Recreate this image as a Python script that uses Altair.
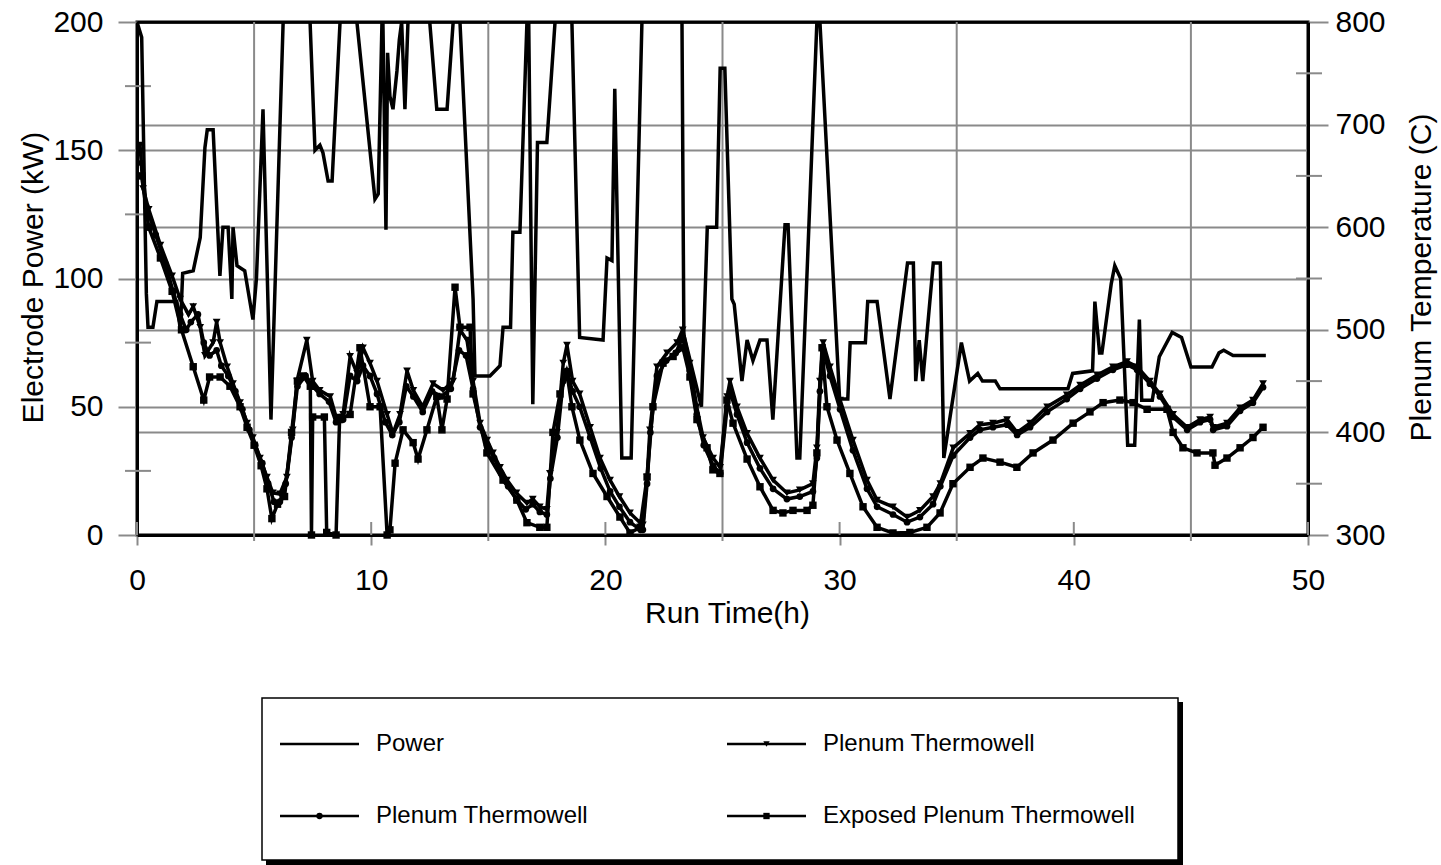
import altair as alt
import pandas as pd

# ---------------- data ----------------
power_t = [0.0, 0.2, 0.4, 0.47, 0.68, 0.85, 1.7, 1.85, 1.95, 2.4, 2.7, 2.9, 3.0, 3.25, 3.54, 3.67, 3.89, 4.05, 4.1, 4.27,
           4.6, 4.95, 5.1, 5.38, 5.72, 6.24, 6.8, 7.39, 7.6, 7.81, 7.94, 8.16, 8.33, 8.67, 9.0, 9.39, 10.16, 10.3, 10.46, 10.5,
           10.63, 10.7, 10.8, 10.93, 11.1, 11.2, 11.3, 11.44, 11.57, 12.0, 12.5, 12.8, 13.24, 13.5, 13.65, 13.79, 14.35, 14.43, 15.07, 15.5,
           15.63, 15.95, 16.05, 16.35, 16.65, 16.72, 16.9, 17.1, 17.5, 17.85, 18.2, 18.57, 18.9, 19.9, 20.07, 20.28, 20.4, 20.7, 21.1, 21.56,
           22.4, 23.27, 23.35, 24.1, 24.35, 24.75, 24.9, 25.1, 25.4, 25.5, 25.83, 26.05, 26.3, 26.6, 26.9, 27.15, 27.67, 27.8, 28.18, 28.3,
           29.03, 29.1, 29.16, 30.0, 30.35, 30.45, 31.1, 31.2, 31.6, 32.15, 32.9, 33.15, 33.25, 33.4, 33.55, 34.0, 34.3, 34.45, 35.2, 35.55,
           35.9, 36.1, 36.65, 36.85, 39.75, 39.95, 40.8, 40.9, 41.1, 41.2, 41.6, 41.75, 42.0, 42.3, 42.6, 42.8, 42.9, 43.35, 43.65, 44.2,
           44.6, 45.0, 45.9, 46.2, 46.4, 46.8, 48.2]
power_kw = [200, 194, 94, 81, 81, 91, 91, 80, 102, 103, 116, 151, 158, 158, 101, 120, 120, 92, 120, 105,
            103, 84, 100, 166, 45, 200, 225, 200, 150, 152, 149, 138, 138, 200, 215, 200, 131, 133, 200, 200,
            119, 188, 171, 166, 181, 193, 200, 166, 200, 220, 200, 166, 166, 200, 205, 200, 92, 62, 62, 66,
            81, 81, 118, 118, 200, 205, 51, 153, 153, 200, 230, 200, 77, 76, 108, 107, 174, 30, 30, 200,
            240, 200, 78, 50, 120, 120, 182, 182, 92, 90, 60, 76, 68, 76, 76, 45, 121, 121, 30, 30,
            200, 205, 200, 53, 53, 75, 75, 91, 91, 53, 106, 106, 60, 76, 60, 106, 106, 30, 75, 60,
            63, 60, 60, 57, 57, 63, 64, 91, 71, 71, 98, 105, 100, 35, 35, 84, 52.5, 52.5, 69.5, 79,
            77, 65.5, 65.5, 71, 72, 70, 70]

tw1_t = [0.13, 0.26, 0.5, 1.0, 1.5, 1.84, 2.2, 2.4, 2.7, 2.9, 3.25, 3.4, 3.55, 3.85, 4.1, 4.4, 4.7, 4.95, 5.25, 5.55,
         5.8, 6.1, 6.4, 6.65, 6.83, 7.25, 7.5, 7.8, 8.25, 8.5, 8.8, 9.1, 9.4, 9.65, 9.95, 10.25, 10.68, 10.93, 11.23, 11.53,
         11.8, 12.2, 12.64, 13.07, 13.5, 13.79, 14.09, 14.35, 14.65, 14.95, 15.2, 15.5, 15.8, 16.2, 16.65, 16.9, 17.2, 17.5, 17.63, 17.93,
         18.2, 18.36, 18.6, 18.9, 19.35, 19.77, 20.2, 20.6, 21.05, 21.48, 21.6, 21.78, 21.9, 22.2, 22.63, 23.06, 23.3, 23.6, 23.9, 24.17,
         24.6, 24.9, 25.2, 25.32, 25.62, 26.05, 26.6, 27.16, 27.75, 28.3, 28.86, 29.03, 29.16, 29.3, 29.59, 30.02, 30.57, 31.17, 31.6, 32.28,
         32.88, 33.43, 33.99, 34.3, 34.85, 35.57, 35.99, 36.55, 37.15, 37.58, 38.13, 38.86, 39.7, 40.27, 40.99, 41.67, 42.27, 42.7, 43.25, 43.68,
         44.24, 44.84, 45.39, 45.82, 45.95, 46.54, 47.1, 47.65, 48.08]
tw1_c = [680, 637.5, 617.5, 582.5, 552.5, 530, 515, 522.5, 502.5, 475, 487.5, 507.5, 487.5, 464, 447.5, 429, 409, 395, 375, 356.5,
         341, 340, 356.5, 402.5, 450, 490, 450, 441, 435, 415, 417.5, 474, 457.5, 482.5, 467.5, 450, 417.5, 399, 417.5, 460,
         441, 425, 447.5, 441, 450, 500, 490, 450, 409, 392.5, 380, 366, 353.5, 341, 331, 335, 327.5, 325, 360, 400,
         467.5, 485, 450, 437.5, 405, 375, 353.5, 337.5, 321.5, 312, 310, 356.5, 402.5, 464, 477.5, 487.5, 500, 467.5, 425, 395,
         375, 366, 435, 450, 425, 399, 375, 353.5, 341, 344, 350, 385, 450, 487.5, 464, 431.5, 392.5, 353.5, 334, 327.5,
         317.5, 324, 337.5, 350, 385, 399, 407.5, 409, 412.5, 400, 409, 425, 436.5, 446, 456, 464, 469, 464, 450, 437.5,
         417.5, 405, 412.5, 415, 405, 409, 424, 431.5, 447.5]

tw2_t = [0.2, 0.4, 0.8, 1.2, 1.54, 1.84, 2.1, 2.3, 2.6, 2.85, 3.1, 3.4, 3.6, 3.9, 4.2, 4.5, 4.8, 5.05, 5.35, 5.6,
         5.85, 6.1, 6.35, 6.6, 6.85, 7.2, 7.5, 7.8, 8.2, 8.5, 8.8, 9.1, 9.4, 9.65, 9.95, 10.25, 10.6, 10.9, 11.2, 11.5,
         11.8, 12.2, 12.6, 13.0, 13.4, 13.75, 14.05, 14.35, 14.65, 14.95, 15.25, 15.55, 15.85, 16.2, 16.6, 16.9, 17.2, 17.5, 17.65, 17.95,
         18.2, 18.35, 18.6, 18.9, 19.35, 19.8, 20.2, 20.6, 21.05, 21.5, 21.6, 21.78, 21.92, 22.2, 22.6, 23.0, 23.3, 23.6, 23.9, 24.2,
         24.6, 24.9, 25.2, 25.32, 25.62, 26.05, 26.6, 27.16, 27.75, 28.3, 28.86, 29.03, 29.16, 29.3, 29.59, 30.02, 30.57, 31.17, 31.6, 32.28,
         32.88, 33.43, 33.99, 34.3, 34.85, 35.57, 35.99, 36.55, 37.15, 37.58, 38.13, 38.86, 39.7, 40.27, 40.99, 41.67, 42.27, 42.7, 43.25, 43.68,
         44.24, 44.84, 45.39, 45.82, 45.95, 46.54, 47.1, 47.65, 48.08]
tw2_c = [662.5, 620, 592.5, 565, 537.5, 515, 500, 507.5, 515, 487.5, 475, 480, 465, 455, 440, 422.5, 402.5, 387.5, 370, 350,
         332.5, 332.5, 350, 395, 445, 455, 445, 437.5, 430, 410, 412.5, 455, 450, 465, 455, 437.5, 410, 397.5, 410, 445,
         435, 420, 440, 435, 442.5, 480, 475, 442.5, 405, 387.5, 375, 360, 347.5, 335, 325, 330, 322.5, 320, 355, 395,
         450, 460, 440, 425, 395, 365, 342.5, 327.5, 312.5, 305, 305, 350, 400, 455, 470, 477.5, 492.5, 460, 417.5, 387.5,
         367.5, 360, 425, 440, 417.5, 390, 365, 345, 335, 337.5, 342.5, 375, 440, 480, 455, 422.5, 382.5, 345, 327.5, 320,
         312.5, 317.5, 330, 347.5, 377.5, 395, 402.5, 405, 407.5, 397.5, 405, 420, 432.5, 442.5, 452.5, 461, 466, 461, 447.5, 435,
         415, 402.5, 410, 412.5, 402.5, 406, 421, 429, 444]

exp_t = [0.2, 0.5, 1.0, 1.5, 1.9, 2.4, 2.85, 3.1, 3.55, 3.97, 4.4, 4.7, 5.0, 5.3, 5.55, 5.76, 6.0, 6.3, 6.6, 6.85,
         7.1, 7.4, 7.45, 7.5, 8.0, 8.1, 8.5, 8.65, 9.1, 9.52, 9.95, 10.38, 10.68, 10.8, 11.02, 11.36, 11.79, 12.0, 12.38, 12.8,
         13.02, 13.24, 13.58, 13.79, 14.22, 14.35, 14.94, 15.63, 16.22, 16.65, 17.2, 17.5, 17.76, 18.06, 18.36, 18.57, 18.91, 19.47, 20.07, 20.62,
         21.05, 21.48, 21.78, 22.03, 22.46, 22.89, 23.31, 23.61, 23.91, 24.34, 24.59, 24.89, 25.19, 25.45, 26.05, 26.6, 27.16, 27.58, 28.01, 28.61,
         28.86, 29.03, 29.25, 29.46, 29.89, 30.44, 31.0, 31.6, 32.28, 33.0, 33.73, 34.29, 34.84, 35.57, 36.12, 36.85, 37.57, 38.26, 39.11, 39.97,
         40.69, 41.25, 41.97, 42.53, 43.13, 43.98, 44.24, 44.66, 45.26, 45.94, 46.03, 46.54, 47.1, 47.65, 48.08]
exp_c = [650, 600, 570, 537.5, 500, 464, 431.5, 454, 454, 445, 425, 405, 387.5, 367.5, 345, 316, 330, 337.5, 400, 450,
         455, 445, 300, 415, 415, 302.5, 300, 412.5, 417.5, 482.5, 425, 425, 300, 305, 370, 402.5, 390, 374, 402.5, 435,
         402.5, 432.5, 541.5, 502.5, 502.5, 437.5, 380, 353.5, 334, 312, 307.5, 307.5, 400, 437.5, 457.5, 425, 392.5, 360, 337.5, 317.5,
         302, 307.5, 356.5, 425, 467.5, 474, 482.5, 454, 412.5, 385, 363.5, 360, 431.5, 409, 374, 347, 324, 321.5, 324, 324,
         329, 380, 482.5, 425, 392.5, 360, 327.5, 307.5, 302, 302.5, 307.5, 321.5, 350, 366, 375, 371, 366, 380, 392.5, 409,
         420, 429, 431.5, 429, 422.5, 422.5, 400, 385, 380, 380, 368, 375, 385, 395, 405]

x_grid_lines = [5, 15, 25, 35, 45]
x_tick_values = [0, 10, 20, 30, 40, 50]
left_tick_values = [0, 50, 100, 150, 200]
left_minor_values = [25, 75, 125, 175]
right_tick_values = [300, 400, 500, 600, 700, 800]
right_minor_values = [350, 450, 550, 650, 750]

# legend entries: label, marker shape (None = plain line), column, row
legend_labels = ["Power", "Plenum Thermowell", "Plenum Thermowell", "Exposed Plenum Thermowell"]
legend_markers = [None, "triangle-down", "circle", "square"]
legend_cols = [0, 1, 0, 1]
legend_rows = [0, 0, 1, 1]

# ---------------- layout / style ----------------
W, H = 1171, 513
GRAY = "#8a8a8a"
FONT = "Liberation Sans"

xscale = alt.Scale(domain=[0, 50], nice=False, zero=False)
x_axis = alt.Axis(values=x_tick_values, grid=False, tickSize=10, tickColor=GRAY, tickWidth=2,
                  domainColor="black", domainWidth=3, labelFont=FONT, labelFontSize=30, labelColor="black",
                  labelPadding=20, labelFlush=False, title="Run Time(h)", titleFont=FONT, titleFontSize=30,
                  titleFontWeight="normal", titleColor="black", titleX=590, titleY=87,
                  titleBaseline="alphabetic", titleAlign="center")
x_enc = alt.X("t:Q", scale=xscale, axis=x_axis)

left_axis = alt.Axis(orient="left", values=left_tick_values, grid=True,
                     gridColor=alt.condition("datum.value == 0 || datum.value == 200", alt.value("black"), alt.value(GRAY)),
                     gridWidth=2, tickSize=19, tickColor=GRAY, tickWidth=2, domainColor="black", domainWidth=3,
                     labelFont=FONT, labelFontSize=30, labelColor="black", labelPadding=15, labelFlush=False,
                     title="Electrode Power (kW)", titleFont=FONT, titleFontSize=30, titleFontWeight="normal",
                     titleColor="black", titleAngle=270, titleX=-95, titleY=255, titleBaseline="alphabetic",
                     titleAlign="center")
right_axis = alt.Axis(orient="right", values=right_tick_values, grid=True,
                      gridColor=alt.condition("datum.value == 300 || datum.value == 800", alt.value("black"), alt.value(GRAY)),
                      gridWidth=2, tickSize=20, tickColor=GRAY, tickWidth=2, domainColor="black", domainWidth=3,
                      labelFont=FONT, labelFontSize=30, labelColor="black", labelPadding=7, labelFlush=False,
                      title="Plenum Temperature (C)", titleFont=FONT, titleFontSize=30, titleFontWeight="normal",
                      titleColor="black", titleAngle=270, titleX=122, titleY=255, titleBaseline="alphabetic",
                      titleAlign="center")
left_y = alt.Y("kw:Q", scale=alt.Scale(domain=[0, 200], nice=False), axis=left_axis)
right_y = alt.Y("temp:Q", scale=alt.Scale(domain=[300, 800], nice=False), axis=right_axis)

# ---------------- layers ----------------
vgrid = alt.Chart(pd.DataFrame({"t": x_grid_lines})).mark_rule(color=GRAY, strokeWidth=2).encode(
    x=x_enc, y=alt.value(0), y2=alt.value(H + 6))
xticks_in = alt.Chart(pd.DataFrame({"t": x_tick_values})).mark_rule(color=GRAY, strokeWidth=2).encode(
    x=x_enc, y=alt.value(H - 13), y2=alt.value(H))

power_df = pd.DataFrame({"t": power_t, "kw": power_kw})
power_line = alt.Chart(power_df).mark_line(color="black", strokeWidth=3.5, clip=True).encode(x=x_enc, y=left_y)
left_minor = alt.Chart(pd.DataFrame({"kw": left_minor_values})).mark_rule(color=GRAY, strokeWidth=2).encode(
    y=left_y, x=alt.value(-12), x2=alt.value(14))
left_group = alt.layer(left_minor, power_line)

tw1 = pd.DataFrame({"t": tw1_t, "temp": tw1_c, "series": "tw1"})
tw2 = pd.DataFrame({"t": tw2_t, "temp": tw2_c, "series": "tw2"})
exp = pd.DataFrame({"t": exp_t, "temp": exp_c, "series": "exp"})
temps = pd.concat([tw1, tw2, exp], ignore_index=True)

temp_lines = alt.Chart(temps).mark_line(color="black", strokeWidth=3.5, clip=True).encode(
    x=x_enc, y=right_y, detail="series:N")
pts1 = alt.Chart(tw1).mark_point(shape="triangle-down", filled=True, size=60, color="black", opacity=1).encode(x=x_enc, y=right_y)
pts2 = alt.Chart(tw2).mark_point(shape="circle", filled=True, size=45, color="black", opacity=1).encode(x=x_enc, y=right_y)
pts3 = alt.Chart(exp).mark_point(shape="square", filled=True, size=55, color="black", opacity=1).encode(x=x_enc, y=right_y)
right_minor = alt.Chart(pd.DataFrame({"temp": right_minor_values})).mark_rule(color=GRAY, strokeWidth=2).encode(
    y=right_y, x=alt.value(W - 12), x2=alt.value(W + 14))
right_group = alt.layer(right_minor, temp_lines, pts1, pts2, pts3)

# ---------------- legend box with its entries ----------------
one = pd.DataFrame({"k": [0]})
shadow = alt.Chart(one).mark_rect(color="black").encode(
    x=alt.value(129), x2=alt.value(1046), y=alt.value(680), y2=alt.value(843))
box = alt.Chart(one).mark_rect(fill="white", stroke="black", strokeWidth=1.5).encode(
    x=alt.value(125), x2=alt.value(1041), y=alt.value(676), y2=alt.value(838))

COL_X = [143, 590]      # left end of the sample line in each legend column
ROW_Y = [722, 794]      # centre line of each legend row
SAMPLE_LEN = 79
legend_layers = []
for label, marker, col, row in zip(legend_labels, legend_markers, legend_cols, legend_rows):
    x0, yc = COL_X[col], ROW_Y[row]
    df = pd.DataFrame({"label": [label]})
    legend_layers.append(alt.Chart(df).mark_rule(color="black", strokeWidth=2.5).encode(
        x=alt.value(x0), x2=alt.value(x0 + SAMPLE_LEN), y=alt.value(yc)))
    if marker is not None:
        legend_layers.append(alt.Chart(df).mark_point(shape=marker, filled=True, color="black", size=40,
                                                      opacity=1).encode(
            x=alt.value(x0 + SAMPLE_LEN / 2), y=alt.value(yc)))
    legend_layers.append(alt.Chart(df).mark_text(align="left", baseline="middle", font=FONT, fontSize=24,
                                                 color="black").encode(
        x=alt.value(x0 + SAMPLE_LEN + 17), y=alt.value(yc), text="label:N"))

chart = alt.layer(vgrid, xticks_in, left_group, right_group, shadow, box, *legend_layers).resolve_scale(
    y="independent"
).properties(
    width=W, height=H,
    autosize=alt.AutoSizeParams(type="none"),
    padding={"left": 137, "top": 22, "right": 133, "bottom": 330},
    background="white",
).configure_view(stroke="black", strokeWidth=3)

chart.save("out.html", embed_options={"renderer": "svg", "actions": False})
